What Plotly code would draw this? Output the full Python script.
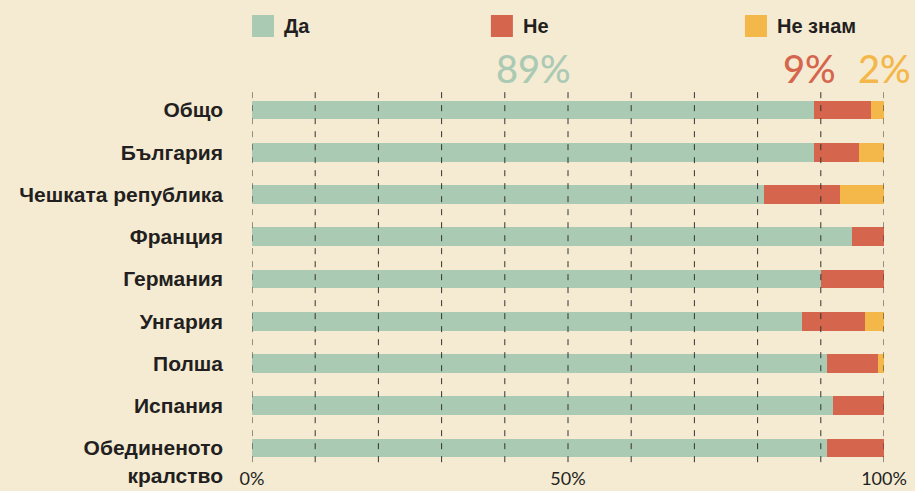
import plotly.graph_objects as go

categories = ["Общо", "България", "Чешката република", "Франция", "Германия",
              "Унгария", "Полша", "Испания", " <br>Обединеното<br>кралство"]
series_names = ["Да", "Не", "Не знам"]
yes_vals = [89, 89, 81, 95, 90, 87, 91, 92, 91]
no_vals = [9, 7, 12, 5, 10, 10, 8, 8, 9]
dk_vals = [2, 4, 7, 0, 0, 3, 1, 0, 0]
colors = ["#ABCAB3", "#D5664D", "#F3B74A"]
grid_vals = list(range(0, 101, 10))
tick_vals = [0, 50, 100]
tick_text = ["0%", "50%", "100%"]

BG = "#F5EBD3"
TXT = "#231F20"

fig = go.Figure()
for name, vals, col in zip(series_names, [yes_vals, no_vals, dk_vals], colors):
    fig.add_trace(go.Bar(
        y=categories, x=vals, name=name, orientation="h",
        marker=dict(color=col, line=dict(width=0)),
        hoverinfo="x+name",
    ))

shapes = []
for g in grid_vals:
    shapes.append(dict(type="line", xref="x", yref="paper", x0=g, x1=g,
                       y0=0.018, y1=1.0, layer="above",
                       line=dict(color="#333333", width=1, dash="6px,7px")))

# custom legend (squares + labels)
legend_x = [0.0, 0.378, 0.78]
annotations = []
for i, (name, col) in enumerate(zip(series_names, colors)):
    x0 = legend_x[i]
    shapes.append(dict(type="rect", xref="paper", yref="paper",
                       x0=x0, x1=x0 + 22 / 632, y0=1 + (89 - 37) / 380, y1=1 + (89 - 15) / 380,
                       fillcolor=col, line=dict(width=0), layer="above"))
    annotations.append(dict(xref="paper", yref="paper", x=x0 + 30 / 632, y=1 + (89 - 26) / 380,
                            text=name, showarrow=False, xanchor="left", yanchor="middle",
                            font=dict(family="Liberation Sans, Arial, sans-serif", size=20,
                                      color=TXT, weight="bold")))

# headline percentages from the "Общо" row
big = [(f"{yes_vals[0]}%", colors[0], 0.445), (f"{no_vals[0]}%", colors[1], 0.882),
       (f"{dk_vals[0]}%", colors[2], 1.0)]
for txt, col, xp in big:
    annotations.append(dict(xref="paper", yref="paper", x=xp, y=1 + (89 - 68) / 380,
                            text=txt, showarrow=False, xanchor="center", yanchor="middle",
                            font=dict(family="Lato, Open Sans, sans-serif", size=38, color=col,
                                      weight=500)))

fig.update_layout(
    width=915, height=491,
    margin=dict(l=252, r=31, t=89, b=22, autoexpand=False),
    paper_bgcolor=BG, plot_bgcolor=BG,
    barmode="stack", bargap=0.558,
    showlegend=False,
    shapes=shapes, annotations=annotations,
    xaxis=dict(range=[0, 100], tickvals=tick_vals, ticktext=tick_text,
               showgrid=False, zeroline=False, showline=False, ticks="",
               ticklabelstandoff=-3, automargin=False,
               tickfont=dict(family="Lato, Open Sans, sans-serif", size=18, color=TXT),
               fixedrange=True),
    yaxis=dict(range=[8.5, -0.5], showgrid=False, zeroline=False, showline=False,
               ticks="", ticklabelstandoff=28, automargin=False,
               tickfont=dict(family="Liberation Sans, Arial, sans-serif", size=21,
                             color=TXT, weight="bold"),
               fixedrange=True),
)

fig.write_html("out.html", config={"displayModeBar": False},
               post_script="document.body.style.margin='0';document.body.style.overflow='hidden';")
